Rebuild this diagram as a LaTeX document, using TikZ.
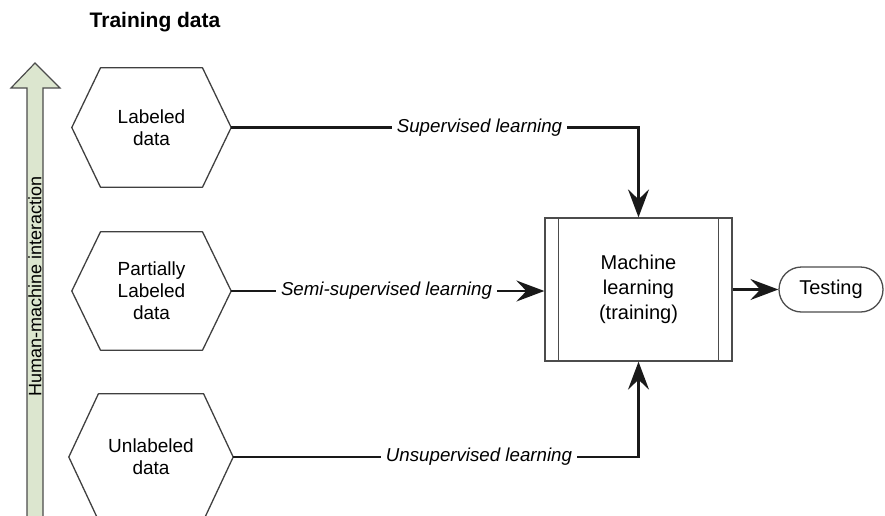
\documentclass[tikz,border=0pt]{standalone}
\usepackage{fontspec}
\setmainfont{Liberation Sans}
\usetikzlibrary{arrows.meta,shapes.misc,calc}
\begin{document}
\begin{tikzpicture}[x=1pt,y=-1pt,
  every node/.style={font=\fontsize{19}{22}\selectfont},
  hexbox/.style={rectangle,draw=none,align=center,inner sep=0pt},
  hexline/.style={draw=black!75,line width=1.3pt},
  lbl/.style={font=\fontsize{18.7}{22}\selectfont\itshape,inner sep=5pt},
  conn/.style={draw=black!90,line width=2.2pt},
  arr/.style={conn,-{Stealth[length=28pt 0,width=21pt 0,inset=10pt 0]}},
  boxline/.style={draw=black!70,line width=1.3pt}]
\useasboundingbox (0,0) rectangle (885,515);
\begin{scope}
\clip (0,0) rectangle (885,515);
% title
\node[font=\fontsize{21}{24}\selectfont\bfseries] (title) at (155,22) {Training data};
% green arrow
\draw[draw=black!70,line width=1.2pt,fill={rgb,255:red,220;green,230;blue,207}]
  (27,530) -- (27,88) -- (11,88) -- (35,63) -- (60,88) -- (43,88) -- (43,530) -- cycle;
\node[rotate=90,font=\fontsize{18}{22}\selectfont] (hmi) at (35,286) {Human-machine interaction};
% hexagons
\node[hexbox,minimum width=159pt,minimum height=119pt] (h1) at (151.5,127.5) {Labeled\\data};
\node[hexbox,minimum width=159pt,minimum height=118pt] (h2) at (151.5,291) {Partially\\Labeled\\data};
\node[hexbox,minimum width=164pt,minimum height=126pt] (h3) at (151,457) {Unlabeled\\data};
\foreach \h/\f in {h1/0.18,h2/0.18,h3/0.18}{
  \draw[hexline,line join=round] (\h.west) -- ($(\h.north west)!\f!(\h.north east)$) -- ($(\h.north east)!\f!(\h.north west)$)
   -- (\h.east) -- ($(\h.south east)!\f!(\h.south west)$) -- ($(\h.south west)!\f!(\h.south east)$) -- cycle;
}
% machine learning box
\node[rectangle,draw=black!70,line width=1.3pt,minimum width=187pt,minimum height=143pt,align=center,inner sep=0pt,font=\fontsize{20}{25}\selectfont] (ml) at (638.5,289.5) {Machine\\learning\\(training)};
\draw[boxline] ($(ml.north west)+(14,0)$) -- ($(ml.south west)+(14,0)$);
\draw[boxline] ($(ml.north east)+(-14,0)$) -- ($(ml.south east)+(-14,0)$);
% testing
\node[rounded rectangle,draw=black!70,line width=1.3pt,minimum width=104pt,minimum height=45pt,inner sep=0pt,font=\fontsize{20}{24}\selectfont] (test) at (831,289.5) {Testing};
% labels
\node[lbl] (sup) at (479.5,127.5) {Supervised learning};
\node[lbl] (semi) at (386.5,291) {Semi-supervised learning};
\node[lbl] (uns) at (479,457) {Unsupervised learning};
% connectors
\draw[conn] (h1.east) -- (h1.east -| sup.west);
\draw[arr] (sup.east) -| (ml.north);
\draw[conn] (h2.east) -- (h2.east -| semi.west);
\draw[arr] (semi.east) -- (semi.east -| ml.west);
\draw[conn] (h3.east) -- (h3.east -| uns.west);
\draw[arr] (uns.east) -| (ml.south);
\draw[arr] (ml.east) -- (ml.east -| test.west);
\end{scope}
\end{tikzpicture}
\end{document}
